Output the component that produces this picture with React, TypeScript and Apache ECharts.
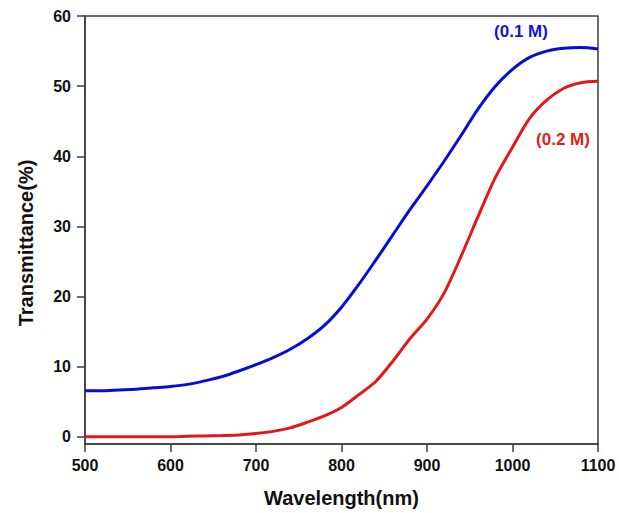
import React, { useEffect, useRef } from "react";
import * as echarts from "echarts";

const wavelengths = [500, 520, 540, 560, 580, 600, 620, 640, 660, 680, 700, 720, 740, 760, 780, 800, 820, 840, 860, 880, 900, 920, 940, 960, 980, 1000, 1020, 1040, 1060, 1080, 1100];
const series01M = [6.6, 6.6, 6.7, 6.8, 7.0, 7.2, 7.5, 8.0, 8.6, 9.4, 10.3, 11.3, 12.5, 14.0, 15.9, 18.5, 21.7, 25.2, 28.8, 32.4, 35.8, 39.3, 43.0, 46.8, 50.0, 52.4, 54.1, 55.0, 55.4, 55.5, 55.3];
const series02M = [0.05, 0.05, 0.05, 0.05, 0.05, 0.05, 0.1, 0.15, 0.2, 0.3, 0.5, 0.8, 1.3, 2.1, 3.0, 4.2, 6.0, 7.9, 10.8, 14.0, 16.8, 20.5, 25.8, 31.5, 37.0, 41.3, 45.4, 48.0, 49.7, 50.5, 50.7];
const yTicks = [0, 10, 20, 30, 40, 50, 60];
const label01 = "(0.1 M)";
const label02 = "(0.2 M)";

export default function App() {
  const ref = useRef<HTMLDivElement>(null);
  useEffect(() => {
    if (!ref.current) return;
    const chart = echarts.init(ref.current, null, { renderer: "svg" });
    const font = "Liberation Sans, Arial, sans-serif";
    const axisColor = "#3c3c3c";
    chart.setOption({
      animation: false,
      backgroundColor: "#ffffff",
      grid: {
        left: 85,
        right: 21,
        top: 16,
        bottom: 69,
        show: true,
        backgroundColor: "transparent",
        borderColor: axisColor,
        borderWidth: 1.5,
      },
      xAxis: {
        type: "value",
        min: 500,
        max: 1100,
        interval: 100,
        name: "Wavelength(nm)",
        nameLocation: "middle",
        nameGap: 44,
        nameTextStyle: { fontFamily: font, fontWeight: "bold", fontSize: 20, color: "#111" },
        axisLine: { show: true, onZero: false, lineStyle: { color: axisColor, width: 1.5 } },
        axisTick: { show: true, inside: false, length: 8, lineStyle: { color: axisColor, width: 1.5 } },
        axisLabel: { margin: 13, formatter: (v: number) => String(v), fontFamily: font, fontWeight: "bold", fontSize: 16, color: "#111" },
        splitLine: { show: false },
      },
      yAxis: {
        type: "value",
        min: -1,
        max: 60,
        axisLine: { show: true, onZero: false, lineStyle: { color: axisColor, width: 1.5 } },
        axisTick: { show: true, inside: false, length: 8, customValues: yTicks, lineStyle: { color: axisColor, width: 1.5 } },
        axisLabel: { margin: 14, customValues: yTicks, fontFamily: font, fontWeight: "bold", fontSize: 16, color: "#111" },
        splitLine: { show: false },
      },
      graphic: [
        {
          type: "text",
          x: 26,
          y: 243,
          rotation: Math.PI / 2,
          style: {
            text: "Transmittance(%)",
            font: `bold 20px ${font}`,
            fill: "#111",
            align: "center",
            verticalAlign: "middle",
          },
        },
        {
          type: "text",
          x: 521,
          y: 31,
          style: {
            text: label01,
            font: `bold 17px ${font}`,
            fill: "#1414d2",
            align: "center",
            verticalAlign: "middle",
          },
        },
        {
          type: "text",
          x: 563,
          y: 139,
          style: {
            text: label02,
            font: `bold 17px ${font}`,
            fill: "#e02020",
            align: "center",
            verticalAlign: "middle",
          },
        },
      ],
      series: [
        {
          type: "line",
          name: label01,
          data: wavelengths.map((w, i) => [w, series01M[i]]),
          showSymbol: false,
          smooth: 0.3,
          lineStyle: { color: "#0a0ad8", width: 3 },
        },
        {
          type: "line",
          name: label02,
          data: wavelengths.map((w, i) => [w, series02M[i]]),
          showSymbol: false,
          smooth: 0.3,
          lineStyle: { color: "#e41818", width: 3 },
        },
      ],
    });
    return () => chart.dispose();
  }, []);
  return <div ref={ref} style={{ width: 619, height: 513, position: "absolute", left: 0, top: 0 }} />;
}
